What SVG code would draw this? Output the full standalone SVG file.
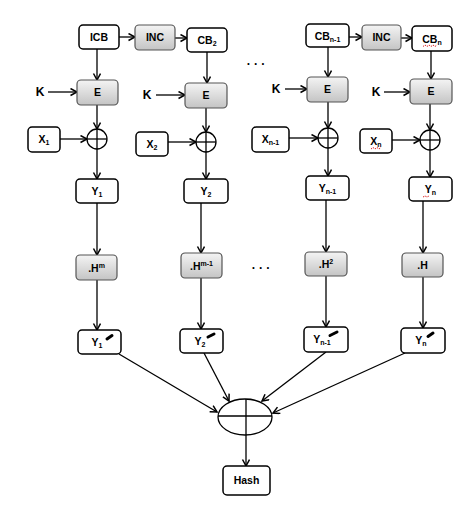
<svg xmlns="http://www.w3.org/2000/svg" width="474" height="512" viewBox="0 0 474 512">
<defs>
<linearGradient id="g" x1="0" y1="0" x2="0" y2="1">
<stop offset="0" stop-color="#f4f4f4"/>
<stop offset="1" stop-color="#c4c4c4"/>
</linearGradient>
<marker id="a" markerWidth="9" markerHeight="9" refX="7.5" refY="4" orient="auto" markerUnits="userSpaceOnUse">
<path d="M1,0.5 L7.5,4 L1,7.5" fill="none" stroke="#000" stroke-width="1.5"/>
</marker>
<style>
.w{fill:#fff;stroke:#000;stroke-width:1.5}
.s{fill:url(#g);stroke:#555;stroke-width:1.2}
.t{font-family:"Liberation Sans",Arial,sans-serif;font-weight:bold;font-size:10.5px;text-anchor:middle;fill:#000}
.k{font-family:"Liberation Sans",Arial,sans-serif;font-weight:bold;font-size:12px;text-anchor:middle;fill:#000}
.c line,.c path{stroke:#000;stroke-width:1.3;fill:none}
.x{fill:#fff;stroke:#000;stroke-width:1.3}
.p{stroke:#000;stroke-width:3;stroke-linecap:round}
.r{stroke:#d22;stroke-width:1;fill:none;stroke-dasharray:1.5 1}
</style>
</defs>
<rect width="474" height="512" fill="#fff"/>
<g class="c">
<line x1="119" y1="37" x2="135" y2="37" marker-end="url(#a)"/>
<line x1="175" y1="38" x2="187" y2="38" marker-end="url(#a)"/>
<line x1="349" y1="37" x2="362" y2="37" marker-end="url(#a)"/>
<line x1="401" y1="38" x2="412" y2="38" marker-end="url(#a)"/>
<line x1="97" y1="49" x2="97" y2="80" marker-end="url(#a)"/>
<line x1="207" y1="52" x2="207" y2="83" marker-end="url(#a)"/>
<line x1="328" y1="47" x2="328" y2="77" marker-end="url(#a)"/>
<line x1="431" y1="51" x2="431" y2="79" marker-end="url(#a)"/>
<line x1="48" y1="92" x2="77" y2="92" marker-end="url(#a)"/>
<line x1="156" y1="95" x2="185" y2="95" marker-end="url(#a)"/>
<line x1="285" y1="89" x2="307" y2="89" marker-end="url(#a)"/>
<line x1="384" y1="92" x2="410" y2="92" marker-end="url(#a)"/>
<line x1="97" y1="105" x2="97" y2="129" marker-end="url(#a)"/>
<line x1="206" y1="108" x2="206" y2="132" marker-end="url(#a)"/>
<line x1="328" y1="102" x2="328" y2="128" marker-end="url(#a)"/>
<line x1="430" y1="104" x2="430" y2="130" marker-end="url(#a)"/>
<line x1="60" y1="139" x2="87" y2="139" marker-end="url(#a)"/>
<line x1="168" y1="142" x2="196" y2="142" marker-end="url(#a)"/>
<line x1="289" y1="138" x2="318" y2="138" marker-end="url(#a)"/>
<line x1="392" y1="140" x2="420" y2="140" marker-end="url(#a)"/>
<line x1="97" y1="149" x2="97" y2="179" marker-end="url(#a)"/>
<line x1="206" y1="152" x2="206" y2="179" marker-end="url(#a)"/>
<line x1="328" y1="148" x2="328" y2="176" marker-end="url(#a)"/>
<line x1="430" y1="150" x2="430" y2="177" marker-end="url(#a)"/>
<line x1="97" y1="203" x2="97" y2="255" marker-end="url(#a)"/>
<line x1="201" y1="203" x2="201" y2="253" marker-end="url(#a)"/>
<line x1="326" y1="200" x2="326" y2="252" marker-end="url(#a)"/>
<line x1="423" y1="201" x2="423" y2="253" marker-end="url(#a)"/>
<line x1="97" y1="280" x2="97" y2="330" marker-end="url(#a)"/>
<line x1="201" y1="278" x2="201" y2="329" marker-end="url(#a)"/>
<line x1="326" y1="276" x2="326" y2="327" marker-end="url(#a)"/>
<line x1="423" y1="277" x2="423" y2="328" marker-end="url(#a)"/>
<line x1="119" y1="354" x2="217" y2="412" marker-end="url(#a)"/>
<line x1="204" y1="353" x2="229" y2="401" marker-end="url(#a)"/>
<line x1="326" y1="352" x2="262" y2="401" marker-end="url(#a)"/>
<line x1="405" y1="353" x2="273" y2="413" marker-end="url(#a)"/>
<line x1="246" y1="435" x2="246" y2="466" marker-end="url(#a)"/>
</g>
<g id="icb"><rect class="w" x="79" y="25" width="40" height="24" rx="4"/><text class="t" x="99" y="41">ICB</text></g>
<g id="inc1"><rect class="s" x="135" y="25" width="40" height="25" rx="4"/><text class="t" x="155" y="41">INC</text></g>
<g id="cb2"><rect class="w" x="187" y="28" width="40" height="24" rx="4"/><text class="t" x="207" y="44">CB<tspan font-size="7" dy="2">2</tspan></text></g>
<g id="cbn1"><rect class="w" x="306" y="24" width="43" height="23" rx="4"/><text class="t" x="327.5" y="40">CB<tspan font-size="7" dy="2">n-1</tspan></text></g>
<g id="inc2"><rect class="s" x="362" y="25" width="39" height="25" rx="4"/><text class="t" x="381.5" y="41">INC</text></g>
<g id="cbn"><rect class="w" x="412" y="26" width="40" height="25" rx="4"/><text class="t" x="432" y="43">CB<tspan font-size="7" dy="2">n</tspan></text><path class="r" d="M423,46.5 l2,-1.5 l2,1.5 l2,-1.5 l2,1.5 l2,-1.5 l2,1.5 l2,-1.5"/></g>
<g id="dots1"><text class="k" x="256" y="68">· · ·</text></g>
<g id="k1"><text class="k" x="40" y="96">K</text></g>
<g id="k2"><text class="k" x="147" y="99">K</text></g>
<g id="k3"><text class="k" x="276" y="93">K</text></g>
<g id="k4"><text class="k" x="376" y="96">K</text></g>
<g id="e1"><rect class="s" x="77" y="80" width="41" height="25" rx="4"/><text class="t" x="97.5" y="96">E</text></g>
<g id="e2"><rect class="s" x="185" y="83" width="42" height="25" rx="4"/><text class="t" x="206" y="99">E</text></g>
<g id="e3"><rect class="s" x="307" y="77" width="41" height="25" rx="4"/><text class="t" x="327.5" y="93">E</text></g>
<g id="e4"><rect class="s" x="410" y="79" width="42" height="25" rx="4"/><text class="t" x="431" y="95">E</text></g>
<g id="x1"><rect class="w" x="28" y="127" width="32" height="25" rx="4"/><text class="t" x="44" y="143">X<tspan font-size="7" dy="2">1</tspan></text></g>
<g id="x2"><rect class="w" x="136" y="132" width="32" height="24" rx="4"/><text class="t" x="152" y="148">X<tspan font-size="7" dy="2">2</tspan></text></g>
<g id="xn1"><rect class="w" x="252" y="127" width="37" height="25" rx="4"/><text class="t" x="270.5" y="143">X<tspan font-size="7" dy="2">n-1</tspan></text></g>
<g id="xn"><rect class="w" x="360" y="129" width="32" height="24" rx="4"/><text class="t" x="376" y="145">X<tspan font-size="7" dy="2">n</tspan></text><path class="r" d="M371,149 l2,-1.5 l2,1.5 l2,-1.5 l2,1.5 l2,-1.5"/></g>
<g id="xor1"><circle class="x" cx="97" cy="139" r="10"/><line x1="87" y1="139" x2="107" y2="139" stroke="#000" stroke-width="1.3"/><line x1="97" y1="129" x2="97" y2="149" stroke="#000" stroke-width="1.3"/></g>
<g id="xor2"><circle class="x" cx="206" cy="142" r="10"/><line x1="196" y1="142" x2="216" y2="142" stroke="#000" stroke-width="1.3"/><line x1="206" y1="132" x2="206" y2="152" stroke="#000" stroke-width="1.3"/></g>
<g id="xor3"><circle class="x" cx="328" cy="138" r="10"/><line x1="318" y1="138" x2="338" y2="138" stroke="#000" stroke-width="1.3"/><line x1="328" y1="128" x2="328" y2="148" stroke="#000" stroke-width="1.3"/></g>
<g id="xor4"><circle class="x" cx="430" cy="140" r="10"/><line x1="420" y1="140" x2="440" y2="140" stroke="#000" stroke-width="1.3"/><line x1="430" y1="130" x2="430" y2="150" stroke="#000" stroke-width="1.3"/></g>
<g id="y1"><rect class="w" x="76" y="179" width="42" height="24" rx="4"/><text class="t" x="97" y="195">Y<tspan font-size="7" dy="2">1</tspan></text></g>
<g id="y2"><rect class="w" x="184" y="179" width="44" height="24" rx="4"/><text class="t" x="206" y="195">Y<tspan font-size="7" dy="2">2</tspan></text></g>
<g id="yn1"><rect class="w" x="306" y="176" width="43" height="24" rx="4"/><text class="t" x="327.5" y="192">Y<tspan font-size="7" dy="2">n-1</tspan></text></g>
<g id="yn"><rect class="w" x="409" y="177" width="43" height="24" rx="4"/><text class="t" x="430.5" y="193">Y<tspan font-size="7" dy="2">n</tspan></text><path class="r" d="M423,197 l2,-1 l2,1 l2,-1"/></g>
<g id="hm"><rect class="s" x="76" y="255" width="41" height="25" rx="4"/><text class="t" x="96.5" y="272">.H<tspan font-size="7" dy="-4">m</tspan></text></g>
<g id="hm1"><rect class="s" x="181" y="253" width="41" height="25" rx="4"/><text class="t" x="201.5" y="270">.H<tspan font-size="7" dy="-4">m-1</tspan></text></g>
<g id="dots2"><text class="k" x="261" y="272">· · ·</text></g>
<g id="h2"><rect class="s" x="305" y="252" width="42" height="24" rx="4"/><text class="t" x="326" y="268">.H<tspan font-size="7" dy="-4">2</tspan></text></g>
<g id="h1"><rect class="s" x="402" y="253" width="41" height="24" rx="4"/><text class="t" x="422.5" y="269">.H</text></g>
<g id="y1p"><rect class="w" x="78" y="330" width="43" height="24" rx="4"/><text class="t" x="97" y="346">Y<tspan font-size="7" dy="2">1</tspan></text><line class="p" x1="107" y1="339" x2="112" y2="335.5"/></g>
<g id="y2p"><rect class="w" x="180" y="329" width="43" height="24" rx="4"/><text class="t" x="200" y="345">Y<tspan font-size="7" dy="2">2</tspan></text><line class="p" x1="208" y1="337" x2="214" y2="334"/></g>
<g id="yn1p"><rect class="w" x="304" y="327" width="44" height="25" rx="4"/><text class="t" x="322" y="343">Y<tspan font-size="7" dy="2">n-1</tspan></text><line class="p" x1="330" y1="335.5" x2="337" y2="332"/></g>
<g id="ynp"><rect class="w" x="401" y="328" width="44" height="25" rx="4"/><text class="t" x="421" y="344">Y<tspan font-size="7" dy="2">n</tspan></text><line class="p" x1="428" y1="336.5" x2="433" y2="333"/></g>
<g id="bigxor"><ellipse class="x" cx="245" cy="417" rx="27" ry="18"/><line x1="218" y1="416" x2="272" y2="416" stroke="#000" stroke-width="1.3"/><line x1="246" y1="399" x2="246" y2="435" stroke="#000" stroke-width="1.3"/></g>
<g id="hash"><rect class="w" x="223" y="466" width="47" height="29" rx="4"/><text class="t" x="246.5" y="484">Hash</text></g>
</svg>
